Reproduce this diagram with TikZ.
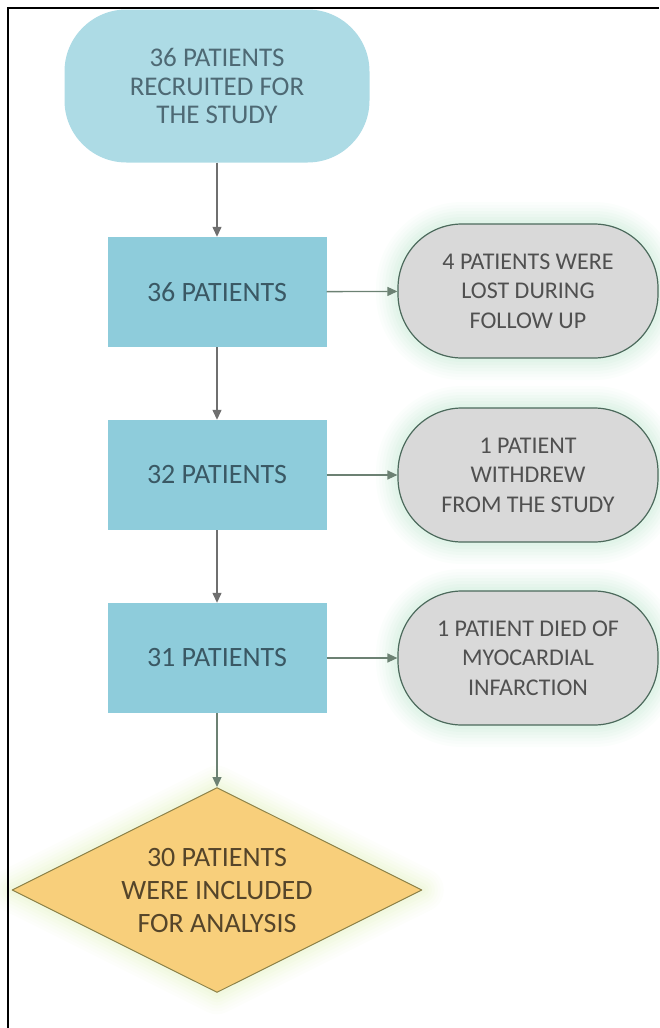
\documentclass[tikz,border=0pt]{standalone}
\usepackage{fontspec}
\setmainfont{Carlito}
\usetikzlibrary{shapes.geometric,arrows.meta}
\definecolor{fcSky}{HTML}{ADDBE5}
\definecolor{fcBlue}{HTML}{8ECCDB}
\definecolor{fcGrey}{HTML}{D9D9D9}
\definecolor{fcGold}{HTML}{F8CF7B}
\definecolor{fcRim}{HTML}{4C6A5C}
\definecolor{fcOlive}{HTML}{8C8248}
\definecolor{fcMint}{HTML}{B5E3C8}
\definecolor{fcLime}{HTML}{DDEFB4}
\definecolor{fcInk}{HTML}{505050}
\definecolor{fcTealInk}{HTML}{3A5864}
\definecolor{fcBrown}{HTML}{55452A}
\definecolor{fcLine}{HTML}{6F6F6F}
\definecolor{fcGreenLine}{HTML}{6C8173}

\begin{document}
\begin{tikzpicture}[x=1pt,y=-1pt,
		glowing/.style={line join=round,
			preaction={draw=#1,line width=44pt,opacity=0.05},
			preaction={draw=#1,line width=38pt,opacity=0.05},
			preaction={draw=#1,line width=32pt,opacity=0.06},
			preaction={draw=#1,line width=26pt,opacity=0.07},
			preaction={draw=#1,line width=20pt,opacity=0.08},
			preaction={draw=#1,line width=14pt,opacity=0.09},
			preaction={draw=#1,line width=8pt,opacity=0.1}},
		startbox/.style={fill=fcSky,rounded corners=62pt,minimum width=305pt,minimum height=153pt,
			align=center,text=fcTealInk!90,font=\fontsize{27}{28.5}\selectfont},
		stepbox/.style={fill=fcBlue,minimum width=219pt,minimum height=110pt,
			text=fcTealInk,font=\fontsize{28}{32}\selectfont},
		dropbox/.style={fill=fcGrey,draw=fcRim,line width=1.2pt,rounded corners=64pt,
			minimum width=260pt,minimum height=134pt,align=center,text=fcInk,
			font=\fontsize{24}{29.5}\selectfont,glowing=fcMint},
		endbox/.style={diamond,aspect=2,inner sep=0pt,fill=fcGold,draw=fcOlive,line width=1pt,
			minimum width=410pt,minimum height=205pt,align=center,text=fcBrown,
			font=\fontsize{28}{33}\selectfont,glowing=fcLime},
		vflow/.style={draw=fcLine,line width=1.3pt,-{Triangle[length=10pt,width=9pt]}},
		hflow/.style={draw=fcGreenLine,line width=1.3pt,-{Triangle[length=10pt,width=9pt]}}]
	\useasboundingbox (0,0) rectangle (659,1028);
	\node[startbox] (recruit) at (217,86) {36 PATIENTS\\RECRUITED FOR\\THE STUDY};
	\node[stepbox] (n36) at (217,292) {36 PATIENTS};
	\node[stepbox] (n32) at (217,475) {32 PATIENTS};
	\node[stepbox] (n31) at (217,658) {31 PATIENTS};
	\node[dropbox] (lost) at (528,291) {4 PATIENTS WERE\\LOST DURING\\FOLLOW UP};
	\node[dropbox] (withdrew) at (528,475) {1 PATIENT\\WITHDREW\\FROM THE STUDY};
	\node[dropbox] (died) at (528,658) {1 PATIENT DIED OF\\MYOCARDIAL\\INFARCTION};
	\node[endbox] (analysis) at (217,890) {30 PATIENTS\\WERE INCLUDED\\FOR ANALYSIS};
	\draw[vflow] (recruit) -- (n36);
	\draw[vflow] (n36) -- (n32);
	\draw[vflow] (n32) -- (n31);
	\draw[vflow,draw=fcGreenLine] (n31) -- (analysis);
	\draw[hflow] (n36) -- (lost);
	\draw[hflow] (n32) -- (withdrew);
	\draw[hflow] (n31) -- (died);
	\draw[line width=1.5pt] (8,1028) -- (8,8) -- (659,8);
\end{tikzpicture}
\end{document}
